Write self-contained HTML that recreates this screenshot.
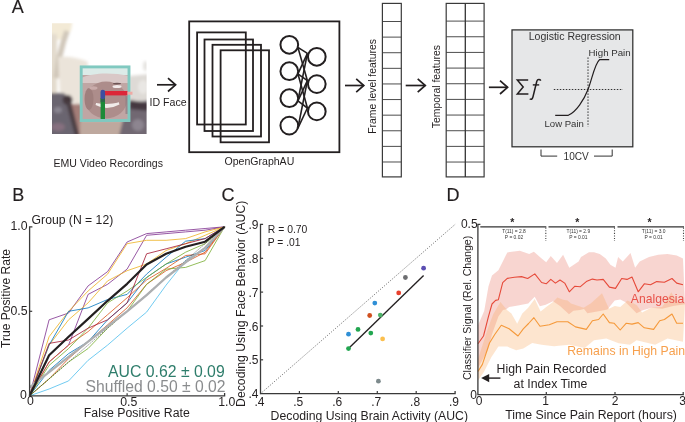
<!DOCTYPE html>
<html><head><meta charset="utf-8"><style>
html,body{margin:0;padding:0;background:#fff;}
svg{display:block;font-family:"Liberation Sans", sans-serif;will-change:transform;}
</style></head><body>
<svg width="685" height="422" viewBox="0 0 685 422">
<rect width="685" height="422" fill="#fff"/>
<text x="11.8" y="12.9" font-size="18" fill="#231f20" stroke="#231f20" stroke-width="0.15">A</text>
<g>
<clipPath id="fc"><rect x="52" y="23.2" width="94.6" height="110.8"/></clipPath>
<filter id="bl" x="-20%" y="-20%" width="140%" height="140%"><feGaussianBlur stdDeviation="1.6"/></filter>
<filter id="bl2" x="-20%" y="-20%" width="140%" height="140%"><feGaussianBlur stdDeviation="0.6"/></filter>
<g clip-path="url(#fc)">
<rect x="52" y="23" width="95" height="111" fill="#ffffff"/>
<g filter="url(#bl)">
<path d="M46,18 L73,18 L71,30 L66,38 L58,40 L46,40 Z" fill="#f3ead6"/>
<rect x="46" y="34" width="11" height="60" fill="#e3dbce"/>
<path d="M67,31 L63,43 L59,59 L56,78" fill="none" stroke="#d0c7ba" stroke-width="5.5"/>
<path d="M58,57 C68,56 80,58 88,62 L86,80 L80,108 L70,100 L60,95 Z" fill="#ebe4da"/>
<path d="M46,93 L64,93 L70,100 L80,138 L46,138 Z" fill="#6b6570"/>
<ellipse cx="58" cy="110" rx="4" ry="3" fill="#8a8692"/>
<ellipse cx="58" cy="127" rx="7" ry="4" fill="#86707f"/>
<path d="M70,104 L82,104 L82,138 L78,138 Z" fill="#a47e78"/>
<ellipse cx="67.5" cy="100" rx="5" ry="5" fill="#45383d"/>
<path d="M66,102 L71,102 L79.5,136 L75,136 Z" fill="#4a3c42"/>
<rect x="80" y="120" width="52" height="20" fill="#bea89e"/>
<path d="M129,76 L150,74 L150,102 L129,102 Z" fill="#dedad6"/>
<ellipse cx="145.5" cy="66" rx="2.5" ry="5" fill="#e6e4e1"/>
<ellipse cx="143" cy="87" rx="5" ry="7" fill="#e9e7e4"/>
<path d="M127,104 L150,100 L150,140 L118,140 Z" fill="#716872"/>
<path d="M129,100 L150,103 L150,111 L130,109 Z" fill="#44393f"/>
<ellipse cx="138" cy="125" rx="6" ry="6" fill="#8d8590"/>
</g>
<g filter="url(#bl2)">
<rect x="81" y="66" width="49" height="56" fill="#c0a6a4"/>
<rect x="81" y="66" width="49" height="9" fill="#dcebe8"/>
<path d="M81,78 C92,73 110,72 130,76 L130,83 L81,83 Z" fill="#d9c8c7"/>
<ellipse cx="106" cy="100" rx="21" ry="18.5" fill="#ad8d8b"/>
<ellipse cx="89" cy="99" rx="4.5" ry="11" fill="#9f7f7d"/>
<ellipse cx="93.5" cy="88" rx="4" ry="1.8" fill="#c9abaa"/>
<ellipse cx="117" cy="83.6" rx="4" ry="0.9" fill="#6e5454"/>
<ellipse cx="117" cy="86.4" rx="4.5" ry="1.5" fill="#f2eaea"/>
<path d="M96,104 Q107,110 119,103.5 Q108,106 96,104 Z" fill="#f1ebe9" stroke="#f1ebe9" stroke-width="2"/>
<rect x="125.5" y="96" width="3" height="18" fill="#8c7c82" opacity="0.7"/>
<rect x="81.2" y="66.9" width="47.8" height="53.6" fill="none" stroke="#80c9c0" stroke-width="2.9"/>
<path d="M104,93.2 L127.5,93.2" stroke="#dc2638" stroke-width="4.4"/>
<path d="M127.5,93.2 L132.5,93.2" stroke="#eeaaa4" stroke-width="3"/>
<path d="M102.8,98 L102.8,119" stroke="#1d8a38" stroke-width="4.4"/>
<path d="M102.8,97.5 L102.8,102" stroke="#2a6a4a" stroke-width="4.4"/>
<path d="M102.8,92 L102.8,97" stroke="#3a4fa0" stroke-width="4.6" stroke-linecap="round"/>
</g>
</g>
</g>
<line x1="157" y1="84.8" x2="175.6" y2="84.8" stroke="#231f20" stroke-width="1.7"/><polyline points="168.0,78.1 175.6,84.8 168.0,91.5" fill="none" stroke="#231f20" stroke-width="1.7"/>
<text x="149.5" y="105.9" font-size="10.62" fill="#231f20">ID Face</text>
<text x="53.5" y="166.8" font-size="10.56" fill="#231f20">EMU Video Recordings</text>
<rect x="189.2" y="21.4" width="150.2" height="130.8" fill="none" stroke="#231f20" stroke-width="1.8"/>
<rect x="197.1" y="32.4" width="48.70000000000002" height="92.1" fill="none" stroke="#231f20" stroke-width="1.8"/>
<rect x="204.5" y="39.5" width="48.5" height="91.5" fill="none" stroke="#231f20" stroke-width="1.8"/>
<rect x="212.5" y="44.8" width="48.5" height="91.7" fill="none" stroke="#231f20" stroke-width="1.8"/>
<rect x="220.6" y="50.3" width="48.400000000000006" height="92.00000000000001" fill="none" stroke="#231f20" stroke-width="1.8"/>
<line x1="297.90000000000003" y1="47.4" x2="307.40000000000003" y2="53.4" stroke="#231f20" stroke-width="1.6"/>
<line x1="297.90000000000003" y1="47.4" x2="307.40000000000003" y2="80.69999999999999" stroke="#231f20" stroke-width="1.6"/>
<line x1="297.90000000000003" y1="73.8" x2="307.40000000000003" y2="53.4" stroke="#231f20" stroke-width="1.6"/>
<line x1="297.90000000000003" y1="73.8" x2="307.40000000000003" y2="80.69999999999999" stroke="#231f20" stroke-width="1.6"/>
<line x1="297.90000000000003" y1="73.8" x2="307.40000000000003" y2="108.0" stroke="#231f20" stroke-width="1.6"/>
<line x1="297.90000000000003" y1="100.8" x2="307.40000000000003" y2="53.4" stroke="#231f20" stroke-width="1.6"/>
<line x1="297.90000000000003" y1="100.8" x2="307.40000000000003" y2="80.69999999999999" stroke="#231f20" stroke-width="1.6"/>
<line x1="297.90000000000003" y1="100.8" x2="307.40000000000003" y2="108.0" stroke="#231f20" stroke-width="1.6"/>
<line x1="297.90000000000003" y1="128.2" x2="307.40000000000003" y2="80.69999999999999" stroke="#231f20" stroke-width="1.6"/>
<line x1="297.90000000000003" y1="128.2" x2="307.40000000000003" y2="108.0" stroke="#231f20" stroke-width="1.6"/>
<circle cx="289.3" cy="44.8" r="8.85" fill="#fff" stroke="#231f20" stroke-width="2"/>
<circle cx="289.3" cy="71.2" r="8.85" fill="#fff" stroke="#231f20" stroke-width="2"/>
<circle cx="289.3" cy="98.2" r="8.85" fill="#fff" stroke="#231f20" stroke-width="2"/>
<circle cx="289.3" cy="125.6" r="8.85" fill="#fff" stroke="#231f20" stroke-width="2"/>
<circle cx="316.8" cy="56.8" r="8.85" fill="#fff" stroke="#231f20" stroke-width="2"/>
<circle cx="316.8" cy="84.1" r="8.85" fill="#fff" stroke="#231f20" stroke-width="2"/>
<circle cx="316.8" cy="111.4" r="8.85" fill="#fff" stroke="#231f20" stroke-width="2"/>
<text x="224.5" y="165.2" font-size="10.55" fill="#231f20">OpenGraphAU</text>
<line x1="345" y1="85.5" x2="363.8" y2="85.5" stroke="#231f20" stroke-width="1.7"/><polyline points="356.2,78.8 363.8,85.5 356.2,92.2" fill="none" stroke="#231f20" stroke-width="1.7"/>
<line x1="382.4" y1="21.50" x2="401.3" y2="21.50" stroke="#4d4d4d" stroke-width="1"/><line x1="382.4" y1="37.11" x2="401.3" y2="37.11" stroke="#4d4d4d" stroke-width="1"/><line x1="382.4" y1="52.72" x2="401.3" y2="52.72" stroke="#4d4d4d" stroke-width="1"/><line x1="382.4" y1="68.33" x2="401.3" y2="68.33" stroke="#4d4d4d" stroke-width="1"/><line x1="382.4" y1="83.94" x2="401.3" y2="83.94" stroke="#4d4d4d" stroke-width="1"/><line x1="382.4" y1="99.55" x2="401.3" y2="99.55" stroke="#4d4d4d" stroke-width="1"/><line x1="382.4" y1="115.16" x2="401.3" y2="115.16" stroke="#4d4d4d" stroke-width="1"/><line x1="382.4" y1="130.77" x2="401.3" y2="130.77" stroke="#4d4d4d" stroke-width="1"/><line x1="382.4" y1="146.38" x2="401.3" y2="146.38" stroke="#4d4d4d" stroke-width="1"/><line x1="382.4" y1="161.99" x2="401.3" y2="161.99" stroke="#4d4d4d" stroke-width="1"/><rect x="382.4" y="3.4" width="18.900000000000034" height="173.5" fill="none" stroke="#3a3a3a" stroke-width="1.2"/>
<text transform="translate(375.6,133.8) rotate(-90)" font-size="10.4" fill="#231f20">Frame level features</text>
<line x1="405.7" y1="85.5" x2="425.3" y2="85.5" stroke="#231f20" stroke-width="1.7"/><polyline points="417.7,78.8 425.3,85.5 417.7,92.2" fill="none" stroke="#231f20" stroke-width="1.7"/>
<line x1="446.2" y1="21.10" x2="484.1" y2="21.10" stroke="#4d4d4d" stroke-width="1"/><line x1="446.2" y1="36.76" x2="484.1" y2="36.76" stroke="#4d4d4d" stroke-width="1"/><line x1="446.2" y1="52.42" x2="484.1" y2="52.42" stroke="#4d4d4d" stroke-width="1"/><line x1="446.2" y1="68.08" x2="484.1" y2="68.08" stroke="#4d4d4d" stroke-width="1"/><line x1="446.2" y1="83.74" x2="484.1" y2="83.74" stroke="#4d4d4d" stroke-width="1"/><line x1="446.2" y1="99.40" x2="484.1" y2="99.40" stroke="#4d4d4d" stroke-width="1"/><line x1="446.2" y1="115.06" x2="484.1" y2="115.06" stroke="#4d4d4d" stroke-width="1"/><line x1="446.2" y1="130.72" x2="484.1" y2="130.72" stroke="#4d4d4d" stroke-width="1"/><line x1="446.2" y1="146.38" x2="484.1" y2="146.38" stroke="#4d4d4d" stroke-width="1"/><line x1="446.2" y1="162.04" x2="484.1" y2="162.04" stroke="#4d4d4d" stroke-width="1"/><rect x="446.2" y="3.4" width="37.900000000000034" height="173.5" fill="none" stroke="#3a3a3a" stroke-width="1.2"/><line x1="465.3" y1="3.4" x2="465.3" y2="176.9" stroke="#333" stroke-width="1.3"/>
<text transform="translate(439.9,128.2) rotate(-90)" font-size="10.4" fill="#231f20">Temporal features</text>
<line x1="488.9" y1="87.3" x2="507.6" y2="87.3" stroke="#231f20" stroke-width="1.7"/><polyline points="500.0,80.6 507.6,87.3 500.0,94.0" fill="none" stroke="#231f20" stroke-width="1.7"/>
<rect x="512" y="29.9" width="120.8" height="116.9" fill="#e6e7e8" stroke="#2e2e2e" stroke-width="1.25"/>
<text x="528.7" y="39.9" font-size="10.56" fill="#333">Logistic Regression</text>
<path d="M528.2,79.9 L517.3,79.9 L523.2,87 L517.3,94.1 L528.4,94.1" fill="none" stroke="#231f20" stroke-width="1.5" stroke-linejoin="miter"/>
<path d="M540.8,80.6 C540,79.3 537.6,79 536.8,81.2 L533,96.8 C532.3,99.6 530.8,99.8 529.8,98.8" fill="none" stroke="#231f20" stroke-width="1.5"/>
<line x1="532.8" y1="84.9" x2="539.2" y2="84.9" stroke="#231f20" stroke-width="1.4"/>
<line x1="553.8" y1="89.5" x2="623" y2="89.5" stroke="#333" stroke-width="1" stroke-dasharray="1.5,1.5"/>
<line x1="588" y1="57.4" x2="588" y2="126.7" stroke="#333" stroke-width="1" stroke-dasharray="1.5,1.5"/>
<path d="M555.2,115.3 L568.3,115.3 C576,112 584,100 588,89.5 C592,79 595,63 599.5,59.7 L609.2,59.7" fill="none" stroke="#231f20" stroke-width="1.2"/>
<text x="588.6" y="56.2" font-size="9.7" fill="#333">High Pain</text>
<text x="544.5" y="127" font-size="9.58" fill="#333">Low Pain</text>
<polyline points="541,149.5 541,156.1 557.2,156.1" fill="none" stroke="#333" stroke-width="1"/>
<polyline points="594,156.1 612.2,156.1 612.2,149.5" fill="none" stroke="#333" stroke-width="1"/>
<text x="563.6" y="160.2" font-size="10.1" fill="#333">10CV</text>
<text x="12.2" y="201.3" font-size="18" fill="#231f20" stroke="#231f20" stroke-width="0.15">B</text>
<text x="31.6" y="224" font-size="12.2" fill="#231f20">Group (N = 12)</text>
<polyline points="29.6,395.8 49.1,319.8 68.6,313.0 88.1,285.9 107.6,271.6 127.1,242.0 146.6,233.6 166.1,231.9 185.6,230.2 205.1,228.5 224.6,226.8" fill="none" stroke="#7E2F8E" stroke-width="0.8" stroke-linejoin="round"/>
<polyline points="29.6,395.8 49.1,362.0 68.6,345.1 88.1,294.4 107.6,284.3 127.1,269.1 146.6,235.3 166.1,233.6 185.6,231.9 205.1,230.2 224.6,226.8" fill="none" stroke="#7E2F8E" stroke-width="0.8" stroke-linejoin="round"/>
<polyline points="29.6,395.8 49.1,336.7 68.6,311.3 88.1,291.0 107.6,274.1 127.1,243.7 146.6,240.3 166.1,240.3 185.6,238.6 205.1,231.9 224.6,226.8" fill="none" stroke="#EDB120" stroke-width="0.8" stroke-linejoin="round"/>
<polyline points="29.6,395.8 49.1,345.1 68.6,319.8 88.1,302.9 107.6,280.9 127.1,270.7 146.6,264.0 166.1,250.5 185.6,243.7 205.1,235.3 224.6,226.8" fill="none" stroke="#EDB120" stroke-width="0.8" stroke-linejoin="round"/>
<polyline points="29.6,395.8 49.1,345.1 68.6,311.3 88.1,307.9 107.6,299.5 127.1,294.4 146.6,274.1 166.1,257.2 185.6,241.2 205.1,238.6 224.6,226.8" fill="none" stroke="#0072BD" stroke-width="0.8" stroke-linejoin="round"/>
<polyline points="29.6,395.8 49.1,370.4 68.6,353.6 88.1,341.7 107.6,319.8 127.1,302.9 146.6,277.5 166.1,264.0 185.6,257.2 205.1,250.5 224.6,226.8" fill="none" stroke="#0072BD" stroke-width="0.8" stroke-linejoin="round"/>
<polyline points="29.6,395.8 49.1,362.0 68.6,345.1 88.1,331.6 107.6,314.7 127.1,297.8 146.6,280.0 166.1,268.4 185.6,255.5 205.1,253.8 224.6,226.8" fill="none" stroke="#D95319" stroke-width="0.8" stroke-linejoin="round"/>
<polyline points="29.6,395.8 49.1,378.9 68.6,358.6 88.1,341.7 107.6,324.8 127.1,307.9 146.6,284.3 166.1,270.7 185.6,262.3 205.1,252.2 224.6,226.8" fill="none" stroke="#D95319" stroke-width="0.8" stroke-linejoin="round"/>
<polyline points="29.6,395.8 49.1,365.4 68.6,348.5 88.1,328.2 107.6,302.9 127.1,291.0 146.6,277.5 166.1,264.0 185.6,252.2 205.1,243.7 224.6,226.8" fill="none" stroke="#77AC30" stroke-width="0.8" stroke-linejoin="round"/>
<polyline points="29.6,395.8 49.1,378.9 68.6,362.0 88.1,348.5 107.6,328.2 127.1,311.3 146.6,284.3 166.1,269.1 185.6,267.4 205.1,260.6 224.6,226.8" fill="none" stroke="#77AC30" stroke-width="0.8" stroke-linejoin="round"/>
<polyline points="29.6,395.8 49.1,389.0 68.6,380.9 88.1,360.3 107.6,345.1 127.1,328.2 146.6,312.1 166.1,285.1 185.6,260.6 205.1,247.6 224.6,226.8" fill="none" stroke="#4DBEEE" stroke-width="0.8" stroke-linejoin="round"/>
<polyline points="29.6,395.8 49.1,343.4 68.6,340.0 88.1,328.2 107.6,319.8 127.1,302.9 146.6,253.8 166.1,248.8 185.6,243.7 205.1,238.6 224.6,226.8" fill="none" stroke="#A2142F" stroke-width="0.8" stroke-linejoin="round"/>
<line x1="29.6" y1="395.8" x2="224.6" y2="226.8" stroke="#444" stroke-width="0.9" stroke-dasharray="1,1.6"/>
<polyline points="29.6,387.4 49.1,372.1 68.6,356.9 88.1,341.7 107.6,326.5 127.1,311.3 146.6,295.2 166.1,277.5 185.6,262.3 205.1,247.9 224.6,226.8" fill="none" stroke="#adafb1" stroke-width="2.3" stroke-linejoin="round"/>
<polyline points="29.6,395.8 49.1,355.2 68.6,336.7 88.1,318.9 107.6,300.8 127.1,283.8 146.6,264.5 166.1,253.8 185.6,246.7 205.1,241.7 224.6,226.8" fill="none" stroke="#231f20" stroke-width="2.2" stroke-linejoin="round"/>
<polyline points="32.4,226.8 29.6,226.8 29.6,395.8 224.6,395.8 224.6,393.0" fill="none" stroke="#3a3a3a" stroke-width="1.3"/>
<line x1="29.6" y1="311.3" x2="32.2" y2="311.3" stroke="#3a3a3a" stroke-width="1.2"/>
<line x1="127.1" y1="395.8" x2="127.1" y2="393.2" stroke="#3a3a3a" stroke-width="1.2"/>
<text x="27.6" y="230" font-size="12.3" fill="#231f20" text-anchor="end">1.0</text>
<text x="27.6" y="314.9" font-size="12.3" fill="#231f20" text-anchor="end">0.5</text>
<text x="26.8" y="398.9" font-size="12.3" fill="#231f20" text-anchor="end">0</text>
<text x="30.4" y="405.2" font-size="12.3" fill="#231f20" text-anchor="middle">0</text>
<text x="128.7" y="405.8" font-size="12.3" fill="#231f20" text-anchor="middle">0.5</text>
<text x="226.8" y="406.1" font-size="12.3" fill="#231f20" text-anchor="middle">1.0</text>
<text x="83.8" y="417" font-size="12.3" fill="#231f20">False Positive Rate</text>
<text transform="translate(9.6,348) rotate(-90)" font-size="12.1" fill="#231f20">True Positive Rate</text>
<text x="224.7" y="376.9" font-size="15.8" fill="#2e7d6b" text-anchor="end">AUC 0.62 ± 0.09</text>
<text x="225.5" y="391.6" font-size="15.7" fill="#8a8c8e" text-anchor="end">Shuffled 0.50 ± 0.02</text>
<text x="221.5" y="201.1" font-size="18" fill="#231f20" stroke="#231f20" stroke-width="0.15">C</text>
<line x1="260.5" y1="393.7" x2="455.1" y2="224.39999999999998" stroke="#555" stroke-width="0.9" stroke-dasharray="1,1.6"/>
<polyline points="263.1,224.39999999999998 260.5,224.39999999999998 260.5,393.7 455.1,393.7 455.1,390.9" fill="none" stroke="#3a3a3a" stroke-width="1.3"/>
<line x1="260.5" y1="359.8" x2="263.1" y2="359.8" stroke="#3a3a3a" stroke-width="1.2"/>
<line x1="299.4" y1="393.7" x2="299.4" y2="390.9" stroke="#3a3a3a" stroke-width="1.2"/>
<line x1="260.5" y1="326.0" x2="263.1" y2="326.0" stroke="#3a3a3a" stroke-width="1.2"/>
<line x1="338.3" y1="393.7" x2="338.3" y2="390.9" stroke="#3a3a3a" stroke-width="1.2"/>
<line x1="260.5" y1="292.1" x2="263.1" y2="292.1" stroke="#3a3a3a" stroke-width="1.2"/>
<line x1="377.3" y1="393.7" x2="377.3" y2="390.9" stroke="#3a3a3a" stroke-width="1.2"/>
<line x1="260.5" y1="258.3" x2="263.1" y2="258.3" stroke="#3a3a3a" stroke-width="1.2"/>
<line x1="416.2" y1="393.7" x2="416.2" y2="390.9" stroke="#3a3a3a" stroke-width="1.2"/>
<text x="258.4" y="398.3" font-size="12" fill="#231f20" text-anchor="end">.4</text>
<text x="259.4" y="406.2" font-size="12" fill="#231f20" text-anchor="middle">.4</text>
<text x="258.4" y="364.4" font-size="12" fill="#231f20" text-anchor="end">.5</text>
<text x="298.3" y="406.2" font-size="12" fill="#231f20" text-anchor="middle">.5</text>
<text x="258.4" y="330.6" font-size="12" fill="#231f20" text-anchor="end">.6</text>
<text x="337.2" y="406.2" font-size="12" fill="#231f20" text-anchor="middle">.6</text>
<text x="258.4" y="296.7" font-size="12" fill="#231f20" text-anchor="end">.7</text>
<text x="376.2" y="406.2" font-size="12" fill="#231f20" text-anchor="middle">.7</text>
<text x="258.4" y="262.9" font-size="12" fill="#231f20" text-anchor="end">.8</text>
<text x="415.1" y="406.2" font-size="12" fill="#231f20" text-anchor="middle">.8</text>
<text x="258.4" y="229.0" font-size="12" fill="#231f20" text-anchor="end">.9</text>
<text x="454.0" y="406.2" font-size="12" fill="#231f20" text-anchor="middle">.9</text>
<text x="267.8" y="232.7" font-size="10.4" fill="#231f20">R = 0.70</text>
<text x="267.8" y="245.8" font-size="10.3" fill="#231f20">P = .01</text>
<text x="270.6" y="419.6" font-size="12.25" fill="#231f20">Decoding Using Brain Activity (AUC)</text>
<text transform="translate(245.3,406.95) rotate(-90)" font-size="12.26" fill="#231f20">Decoding Using Face Behavior (AUC)</text>
<line x1="348" y1="348.9" x2="423.6" y2="275.5" stroke="#231f20" stroke-width="1.35"/>
<circle cx="423.6" cy="268.2" r="2.4" fill="#5c4fb2"/>
<circle cx="405.4" cy="277.5" r="2.4" fill="#6d6e71"/>
<circle cx="398.7" cy="292.9" r="2.4" fill="#e8402d"/>
<circle cx="374.8" cy="303.1" r="2.4" fill="#2f8fd6"/>
<circle cx="369.7" cy="315.5" r="2.4" fill="#d0501f"/>
<circle cx="380.3" cy="315.1" r="2.4" fill="#4fb36a"/>
<circle cx="358" cy="329.4" r="2.4" fill="#22a650"/>
<circle cx="348.5" cy="334.2" r="2.4" fill="#2f8fd6"/>
<circle cx="370.8" cy="333.1" r="2.4" fill="#22a650"/>
<circle cx="382.6" cy="338.9" r="2.4" fill="#fbbf4e"/>
<circle cx="348.5" cy="348.6" r="2.4" fill="#22a650"/>
<circle cx="378.4" cy="381.2" r="2.4" fill="#7d8a8c"/>
<text x="446.4" y="201.1" font-size="18" fill="#231f20" stroke="#231f20" stroke-width="0.15">D</text>
<text x="477.6" y="228" font-size="12" fill="#231f20" text-anchor="end">0.5</text>
<text x="476.9" y="398.8" font-size="12" fill="#231f20" text-anchor="end">0</text>
<text x="479" y="405.3" font-size="12" fill="#231f20" text-anchor="middle">0</text>
<text x="545.6" y="405.3" font-size="12" fill="#231f20" text-anchor="middle">1</text>
<text x="615" y="405.3" font-size="12" fill="#231f20" text-anchor="middle">2</text>
<text x="682.6" y="405.3" font-size="12" fill="#231f20" text-anchor="middle">3</text>
<text x="505.2" y="419.4" font-size="12.3" fill="#231f20">Time Since Pain Report (hours)</text>
<text transform="translate(471.3,380.0) rotate(-90)" font-size="10.55" fill="#231f20">Classifier Signal (Rel. Change)</text>
<polygon points="478.0,325.3 484.2,311.0 488.5,286.2 492.0,275.5 498.4,270.2 503.8,259.5 507.3,252.4 519.8,250.7 529.2,253.9 533.9,251.7 541.6,258.5 546.2,262.2 550.8,256.0 557.0,263.1 563.1,254.8 569.3,267.7 578.6,261.6 581.0,257.0 588.9,252.3 594.0,252.3 599.7,253.9 605.8,258.5 610.4,264.7 615.5,267.7 618.1,257.0 622.8,261.6 630.5,253.0 635.1,267.7 639.7,261.6 649.0,257.0 658.2,254.8 667.5,253.9 676.7,255.4 683.0,258.5 685.0,304.2 673.1,306.0 662.2,308.7 651.2,307.8 642.1,310.5 636.6,313.3 625.7,302.3 620.2,299.6 614.7,300.5 607.4,309.6 600.0,311.0 587.4,313.3 584.0,309.0 580.0,310.0 573.4,310.7 569.0,314.3 560.0,306.0 553.0,301.2 545.7,304.8 539.9,306.3 534.7,296.8 528.2,303.4 518.0,305.5 509.2,307.0 506.3,309.2 503.0,310.0 498.4,316.4 492.0,334.2 487.8,350.2 478.0,368.0" fill="#e87362" fill-opacity="0.3"/>
<polygon points="478.0,359.0 487.8,328.8 493.1,314.6 500.4,301.9 507.0,310.0 511.4,313.6 517.2,323.8 522.3,313.6 528.2,307.7 534.7,299.0 540.6,311.4 547.2,306.3 553.0,301.9 557.4,297.5 563.2,299.7 567.6,300.4 571.0,303.5 583.7,307.8 591.0,303.2 602.0,293.2 609.0,308.7 614.7,306.0 620.2,307.0 627.5,300.5 636.6,305.0 642.1,312.4 651.2,307.8 662.2,307.0 671.3,292.3 676.8,301.4 685.0,303.2 683.0,341.7 667.5,338.6 655.1,344.8 636.6,340.2 630.0,344.8 618.6,343.2 606.3,338.6 594.0,340.2 584.7,347.9 569.3,344.8 553.9,346.3 541.6,344.8 532.2,343.0 523.3,348.4 516.2,350.2 507.3,346.6 498.4,346.6 491.3,357.3 484.2,371.5 478.0,380.4" fill="#f8a85f" fill-opacity="0.3"/>
<polyline points="478.0,343.8 483.5,336.0 488.5,316.4 492.0,304.0 495.6,300.4 498.4,299.7 502.7,282.6 507.3,278.4 514.4,277.3 521.5,276.6 527.7,278.5 534.8,273.9 541.6,282.5 546.2,283.8 550.8,279.4 555.4,283.1 560.0,280.0 564.7,283.1 569.3,291.8 574.9,286.2 580.1,286.8 586.3,281.6 592.4,279.1 597.0,280.0 603.2,279.4 609.4,287.1 615.5,288.4 621.7,278.5 627.0,279.4 632.0,277.0 638.2,291.8 644.3,283.8 650.5,284.7 656.7,281.6 664.4,282.2 672.0,278.5 676.7,283.1 683.0,284.7" fill="none" stroke="#e64a3a" stroke-width="1.1" stroke-linejoin="round"/>
<polyline points="478.0,371.5 482.4,364.4 489.5,343.0 494.9,334.2 501.3,325.3 509.1,328.8 518.0,336.0 523.3,328.8 528.6,323.5 533.9,317.7 540.0,326.3 549.3,324.7 557.0,321.7 567.8,321.7 575.5,326.9 586.3,329.4 592.4,320.7 598.6,319.5 603.2,314.0 609.4,322.6 614.0,323.2 620.2,330.0 626.3,323.2 632.0,324.1 638.2,322.6 644.3,327.8 653.6,329.4 659.7,320.7 664.4,319.5 672.0,314.0 676.7,323.2 683.0,323.2" fill="none" stroke="#f5993a" stroke-width="1.1" stroke-linejoin="round"/>
<polyline points="480.4,224.3 477.9,224.3 477.9,394.7 683.8,394.7" fill="none" stroke="#3a3a3a" stroke-width="1.3"/>
<line x1="546.3" y1="394.7" x2="546.3" y2="391.9" stroke="#3a3a3a" stroke-width="1.2"/>
<line x1="615" y1="394.7" x2="615" y2="391.9" stroke="#3a3a3a" stroke-width="1.2"/>
<line x1="683.2" y1="394.7" x2="683.2" y2="391.9" stroke="#3a3a3a" stroke-width="1.2"/>
<line x1="480.3" y1="226.8" x2="546.3" y2="226.8" stroke="#333" stroke-width="1.3"/>
<line x1="545.8" y1="227.6" x2="545.8" y2="241" stroke="#444" stroke-width="1.1" stroke-dasharray="1.1,1.5"/>
<text x="512.4" y="226.2" font-size="10.5" font-weight="bold" fill="#231f20" text-anchor="middle">*</text>
<text x="514" y="232.8" font-size="4.9" fill="#333" text-anchor="middle">T(11) = 2.8</text>
<text x="514" y="238.6" font-size="4.9" fill="#333" text-anchor="middle">P = 0.02</text>
<line x1="548.5" y1="226.8" x2="615" y2="226.8" stroke="#333" stroke-width="1.3"/>
<line x1="614.5" y1="227.6" x2="614.5" y2="241" stroke="#444" stroke-width="1.1" stroke-dasharray="1.1,1.5"/>
<text x="577.3" y="226.2" font-size="10.5" font-weight="bold" fill="#231f20" text-anchor="middle">*</text>
<text x="578.3" y="232.8" font-size="4.9" fill="#333" text-anchor="middle">T(11) = 2.9</text>
<text x="578.3" y="238.6" font-size="4.9" fill="#333" text-anchor="middle">P = 0.01</text>
<line x1="617.5" y1="226.8" x2="684" y2="226.8" stroke="#333" stroke-width="1.3"/>
<line x1="683.5" y1="227.6" x2="683.5" y2="241" stroke="#444" stroke-width="1.1" stroke-dasharray="1.1,1.5"/>
<text x="649.5" y="226.2" font-size="10.5" font-weight="bold" fill="#231f20" text-anchor="middle">*</text>
<text x="653.6" y="232.8" font-size="4.9" fill="#333" text-anchor="middle">T(11) = 3.0</text>
<text x="653.6" y="238.6" font-size="4.9" fill="#333" text-anchor="middle">P = 0.01</text>
<text x="684.2" y="302.9" font-size="12.15" fill="#e8524a" text-anchor="end">Analgesia</text>
<text x="685" y="354.9" font-size="12.25" fill="#f7a04d" text-anchor="end">Remains in High Pain</text>
<text x="496.6" y="372.7" font-size="12.25" fill="#231f20">High Pain Recorded</text>
<text x="513.6" y="387.8" font-size="12.3" fill="#231f20">at Index Time</text>
<line x1="483" y1="378.1" x2="500.4" y2="378.1" stroke="#231f20" stroke-width="1.4"/>
<polygon points="481.2,378.1 489.2,374.1 489.2,382.3" fill="#231f20"/>
</svg></body></html>
